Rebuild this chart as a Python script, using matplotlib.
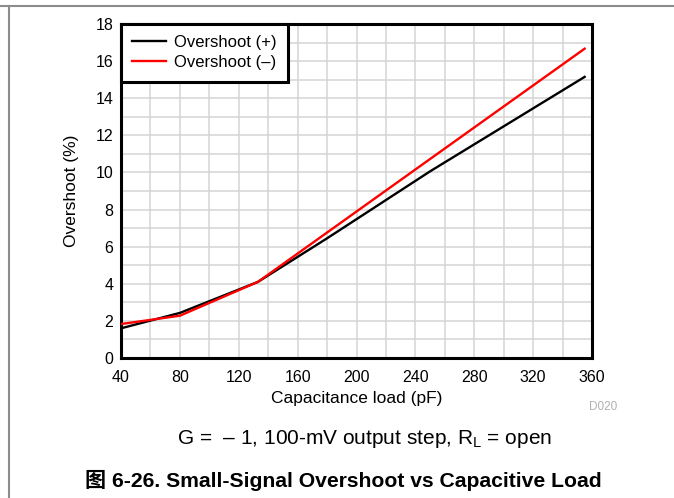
import matplotlib
matplotlib.use("Agg")
import matplotlib.pyplot as plt
from matplotlib.lines import Line2D
from matplotlib.ticker import MultipleLocator

plt.rcParams['font.family'] = ['Liberation Sans', 'Noto Sans CJK SC']
plt.rcParams['mathtext.fontset'] = 'custom'
plt.rcParams['mathtext.rm'] = 'Liberation Sans'
plt.rcParams['mathtext.it'] = 'Liberation Sans'

# data
cap_pos = [40, 80, 133, 180, 250, 355]
over_pos = [1.6, 2.43, 4.1, 6.45, 10.06, 15.15]
cap_neg = [40, 80, 133, 355]
over_neg = [1.83, 2.28, 4.1, 16.67]

xticks = [40, 80, 120, 160, 200, 240, 280, 320, 360]
yticks = [0, 2, 4, 6, 8, 10, 12, 14, 16, 18]

fig = plt.figure(figsize=(6.74, 4.98), dpi=100)
ax = fig.add_axes([121/674, 1-358/498, (592-121)/674, (358-24)/498])

ax.plot(cap_pos, over_pos, color='black', lw=1.7, label='Overshoot (+)', zorder=3)
ax.plot(cap_neg, over_neg, color='#ff0000', lw=1.7, label='Overshoot (\u2013)', zorder=4)

ax.set_xlim(40, 360)
ax.set_ylim(0, 18)
ax.set_xticks(xticks)
ax.set_yticks(yticks)
ax.xaxis.set_minor_locator(MultipleLocator(20))
ax.yaxis.set_minor_locator(MultipleLocator(1))
ax.grid(which='both', color='#d4d4d4', lw=1.1, zorder=0)
ax.set_axisbelow(True)
ax.tick_params(which='both', length=0, labelsize=11.5, colors='black')
ax.tick_params(axis='x', pad=9)
ax.tick_params(axis='y', pad=5.5)
for s in ax.spines.values():
    s.set_linewidth(2.2)
    s.set_color('black')

ax.set_xlabel('Capacitance load (pF)', fontsize=12.5, labelpad=4)
ax.set_ylabel('Overshoot (%)', fontsize=12.5, labelpad=12)

leg = ax.legend(loc='upper left', borderaxespad=0, fancybox=False, framealpha=1,
                edgecolor='black', fontsize=12, handlelength=2.0, handletextpad=0.5,
                borderpad=0.68, labelspacing=0.3)
leg.get_frame().set_linewidth(2.2)

fig.text(617/674, 1-407/498, 'D020', color='#b0b0b0', fontsize=8.5, ha='right', va='center')
fig.text(365/674, 1-439/498, 'G =  \u2012 1, 100-mV output step, R$_\\mathrm{L}$ = open',
         fontsize=15, ha='center', va='center')
fig.text(343/674, 1-480/498, '图 6-26. Small-Signal Overshoot vs Capacitive Load',
         fontsize=15.2, fontweight='bold', ha='center', va='center')

# page frame lines
fig.add_artist(Line2D([0, 1], [1-6/498, 1-6/498], color='#8c8c8c', lw=1.5, transform=fig.transFigure))
fig.add_artist(Line2D([9/674, 9/674], [0, 1-6/498], color='#8c8c8c', lw=1.5, transform=fig.transFigure))

fig.savefig('out.png', dpi=100, facecolor='white')
